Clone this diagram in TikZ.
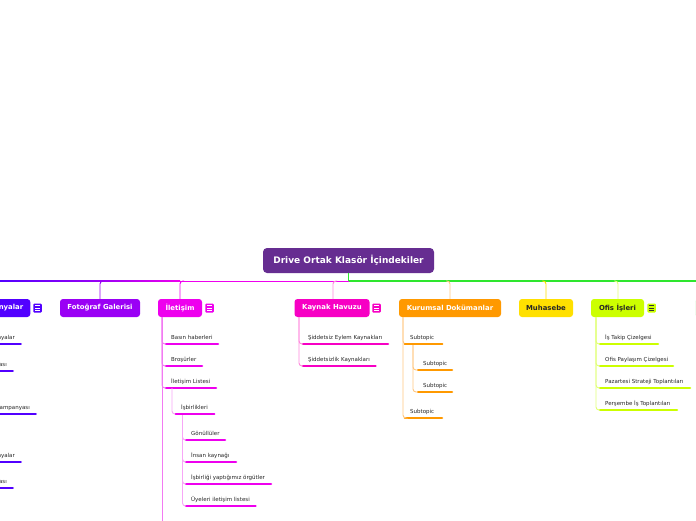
\documentclass[tikz,border=0pt]{standalone}
\usepackage{fontspec}
\setmainfont{DejaVu Sans}
\definecolor{cRoot}{HTML}{662D91}
\definecolor{cKamp}{HTML}{5200FF}
\definecolor{cFot}{HTML}{9A00F5}
\definecolor{cIlet}{HTML}{EE00EE}
\definecolor{cIletL}{HTML}{F27AF2}
\definecolor{cIletLL}{HTML}{F7A6F7}
\definecolor{cKay}{HTML}{F700C4}
\definecolor{cKayL}{HTML}{FF88DD}
\definecolor{cKur}{HTML}{FF9900}
\definecolor{cKurL}{HTML}{FFC780}
\definecolor{cMuh}{HTML}{FFE000}
\definecolor{cOfis}{HTML}{CCFF00}
\definecolor{cOfisL}{HTML}{E2FF7A}
\definecolor{cGreen}{HTML}{2EE62E}
\definecolor{cText}{HTML}{262626}
\usetikzlibrary{calc}
\tikzset{
  branchbox/.style={rounded corners=3pt, minimum height=18pt, inner sep=0pt,
    font=\bfseries\fontsize{6.9}{8}\selectfont, text=white},
  subtext/.style={inner sep=0pt, text=cText, font=\fontsize{5.5}{6.5}\selectfont},
  ulinestyle/.style={line width=2.6pt, line cap=round},
  conn/.style={line width=0.9pt, rounded corners=3pt},
}
% #1 name, #2 x start, #3 x end, #4 y, #5 colour, #6 text
\newcommand\subtop[6]{%
  \draw[ulinestyle, #5] (#2,#4) -- (#3,#4);
  \coordinate (#1) at (#2,#4);
  \node[subtext, anchor=base west] (#1t) at (#2+5,#4-4.8) {#6};
}
% clipped on the left: text anchored to the right
\newcommand\subtopL[5]{%
  \draw[ulinestyle, #4] (-40,#3) -- (#2,#3);
  \coordinate (#1) at (#2,#3);
  \node[subtext, anchor=base east] (#1t) at (#2-5.7,#3-4.8) {#5};
}
% icon: #1 name, #2 x, #3 colour, #4 line colour
\newcommand\noteicon[4]{%
  \node[fill=#3, rounded corners=1pt, minimum width=8.5pt, minimum height=9pt, inner sep=0pt] (#1) at (#2,308) {};
  \draw[#4, line width=0.7pt] ($(#1.center)+(-2.3,-2.2)$) -- ++(4.6,0)
     ($(#1.center)+(-2.3,0)$) -- ++(4.6,0)
     ($(#1.center)+(-2.3,2.2)$) -- ++(4.6,0);
}
\begin{document}
\begin{tikzpicture}[x=1pt,y=-1pt]
\useasboundingbox (0,0) rectangle (696,520);
\clip (0,0) rectangle (696,520);
\fill[white] (0,0) rectangle (696,520);

% root
\node[rounded corners=4pt, fill=cRoot, text=white, minimum width=171pt, minimum height=25pt,
  inner sep=0pt, font=\bfseries\fontsize{9}{10}\selectfont] (root) at (348.5,260.5) {Drive Ortak Klasör İçindekiler};

% main horizontal line
\fill[left color=cKamp, right color=cFot] (-1,280.5) rectangle (100,281.6);
\fill[left color=cFot, right color=cIlet] (100,280.5) rectangle (180,281.6);
\fill[cIlet] (180,280.5) rectangle (348.5,281.6);
\coordinate (hub) at (348.5,281);
\draw[cGreen, line width=1.1pt] (hub) -- (700,281);
\draw[cGreen, line width=1.1pt] (root.south) -- (hub);

% branches
\node[branchbox, fill=cKamp, anchor=east, inner xsep=7pt, minimum height=18pt] (kamp) at (30.5,308) {Kampanyalar};
\node[branchbox, fill=cFot, minimum width=80pt] (fot) at (100,308) {Fotoğraf Galerisi};
\node[branchbox, fill=cIlet, minimum width=44pt] (ilet) at (180,308) {İletişim};
\node[branchbox, fill=cKay, minimum width=75pt] (kay) at (332,308) {Kaynak Havuzu};
\node[branchbox, fill=cKur, minimum width=102pt] (kur) at (450,308) {Kurumsal Dokümanlar};
\node[branchbox, fill=cMuh, text=black!85, minimum width=54pt] (muh) at (546,308) {Muhasebe};
\node[branchbox, fill=cOfis, text=black!85, minimum width=53pt] (ofis) at (617.5,308) {Ofis İşleri};
\node[rounded corners=3pt, fill=cGreen!6, draw=cGreen!15, minimum width=60pt, minimum height=18pt, anchor=west] (next) at (695.3,308) {};

% icons
\noteicon{ikamp}{37.5}{cKamp}{white}
\noteicon{iilet}{209.5}{cIlet}{white}
\noteicon{ikay}{376.5}{cKay}{white}
\noteicon{iofis}{651.5}{cOfis}{black!80}

% branch connectors
\coordinate (fotj) at (104,281);
\coordinate (iletj) at (184,281);
\coordinate (kayj) at (337,281);
\coordinate (kurj) at (446,281);
\coordinate (muhj) at (542,281);
\coordinate (ofisj) at (614,281);
\draw[conn, cFot] (fotj) -| (fot.north);
\draw[conn, cIlet] (iletj) -| (ilet.north);
\draw[conn, cKayL] (kayj) -| (333,299);
\draw[conn, cKurL] (kurj) -| (kur.north);
\draw[conn, cMuh] (muhj) -| (muh.north);
\draw[conn, cOfisL] (ofisj) -| (618,299);

% left branch subtopics (cut off)
\subtopL{k1}{20.7}{344}{cKamp}{Kampanyalar}
\subtopL{k2}{12.7}{371}{cKamp}{Kampanyası}
\subtopL{k3}{35.7}{414}{cKamp}{Kampanyası}
\subtopL{k4}{20.7}{462}{cKamp}{Kampanyalar}
\subtopL{k5}{12.7}{488}{cKamp}{Kampanyası}

% İletişim
\coordinate (iletv) at (162,317);
\draw[conn, cIletL] (iletv) -- (162,530);
\subtop{basin}{166}{218}{344}{cIlet}{Basın haberleri}
\subtop{brosur}{166}{202}{366}{cIlet}{Broşürler}
\subtop{ilist}{166}{216}{388}{cIlet}{İletişim Listesi}
\draw[conn, cIletL] (iletv) |- (basin);
\draw[conn, cIletL] (iletv) |- (brosur);
\draw[conn, cIletL] (iletv) |- (ilist);
\coordinate (ilistv) at (172,388);
\subtop{isbir}{176}{214}{414}{cIlet}{İşbirlikleri}
\draw[conn, cIletLL] (ilistv) |- (isbir);
\coordinate (isbirv) at (182.5,414);
\subtop{gonul}{186}{225}{440}{cIlet}{Gönüllüler}
\subtop{insan}{186}{236}{462}{cIlet}{İnsan kaynağı}
\subtop{orgut}{186}{271}{484}{cIlet}{İşbirliği yaptığımız örgütler}
\subtop{uyeler}{186}{255.5}{506}{cIlet}{Üyeleri iletişim listesi}
\draw[conn, cIletLL] (isbirv) |- (gonul);
\draw[conn, cIletLL] (isbirv) |- (insan);
\draw[conn, cIletLL] (isbirv) |- (orgut);
\draw[conn, cIletLL] (isbirv) |- (uyeler);
\draw[ulinestyle, cIlet] (176,414) -- (214,414);

% Kaynak Havuzu
\coordinate (kayv) at (299,317);
\subtop{sid1}{303}{388}{344}{cKay}{Şiddetsiz Eylem Kaynakları}
\subtop{sid2}{303}{375.5}{366}{cKay}{Şiddetsizlik Kaynakları}
\draw[conn, cKayL] (kayv) |- (sid1);
\draw[conn, cKayL] (kayv) |- (sid2);

% Kurumsal Dokümanlar
\coordinate (kurv) at (403,317);
\subtop{ks1}{405}{442}{344}{cKur}{Subtopic}
\subtop{ks2}{405}{442}{418}{cKur}{Subtopic}
\draw[conn, cKurL] (kurv) |- (ks1);
\draw[conn, cKurL] (kurv) |- (ks2);
\coordinate (ks1v) at (413,344);
\subtop{ks1a}{418}{452}{370}{cKur}{Subtopic}
\subtop{ks1b}{418}{452}{392}{cKur}{Subtopic}
\draw[conn, cKurL] (ks1v) |- (ks1a);
\draw[conn, cKurL] (ks1v) |- (ks1b);
\draw[ulinestyle, cKur] (405,344) -- (442,344);

% Ofis İşleri
\coordinate (ofisv) at (596,317);
\subtop{of1}{600}{658}{344}{cOfis}{İş Takip Çizelgesi}
\subtop{of2}{600}{673}{366}{cOfis}{Ofis Paylaşım Çizelgesi}
\subtop{of3}{600}{690}{388}{cOfis}{Pazartesi Strateji Toplantıları}
\subtop{of4}{600}{677}{410}{cOfis}{Perşembe İş Toplantıları}
\draw[conn, cOfisL] (ofisv) |- (of1);
\draw[conn, cOfisL] (ofisv) |- (of2);
\draw[conn, cOfisL] (ofisv) |- (of3);
\draw[conn, cOfisL] (ofisv) |- (of4);
\end{tikzpicture}
\end{document}
